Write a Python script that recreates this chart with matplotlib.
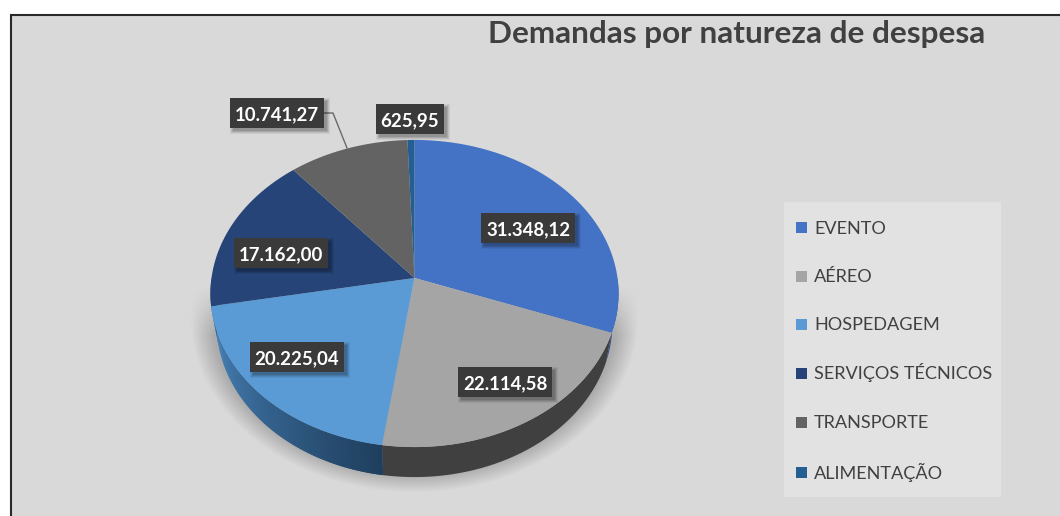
import numpy as np
import matplotlib
matplotlib.use("Agg")
import matplotlib.pyplot as plt
from matplotlib.patches import Rectangle, Polygon
from matplotlib.path import Path
from matplotlib.colors import to_rgb

categories = ["EVENTO", "AÉREO", "HOSPEDAGEM", "SERVIÇOS TÉCNICOS", "TRANSPORTE", "ALIMENTAÇÃO"]
values = [31348.12, 22114.58, 20225.04, 17162.00, 10741.27, 625.95]
value_labels = ["31.348,12", "22.114,58", "20.225,04", "17.162,00", "10.741,27", "625,95"]
colors = ["#4472C4", "#A5A5A5", "#5B9BD5", "#264478", "#636363", "#255E91"]
wall_colors = [("#2F5496", "#2F5496"), ("#404040", "#404040"), ("#4A86BE", "#1F3F5E"),
               ("#1F3F5E", "#1F3F5E"), ("#404040", "#404040"), ("#1F3F5E", "#1F3F5E")]
label_pos = [(528, 228), (505, 382), (297, 357), (281, 253), (277, 113), (410, 119)]
legend_rows = [227, 276, 324, 373, 422, 472]
title = "Demandas por natureza de despesa"

BG = "#D9D9D9"
TXT = "#404040"
CX, CY, RX, A, K = 414.5, 278.0, 203.0, 152.0, 0.101
DEPTH = 30.0

def project(x, y, depth=0.0, shrink=1.0):
    d = 1 + K * y
    return CX + shrink * RX * x / d, CY - A * y / d + depth

plt.rcParams["font.family"] = ["Lato", "DejaVu Sans"]
fig = plt.figure(figsize=(10.6, 5.16), dpi=100, facecolor="white")
ax = fig.add_axes([0, 0, 1, 1])

wedges, _ = ax.pie(values, colors=colors, startangle=90, counterclock=False, radius=1)
ax.set_aspect("auto")
ax.axis("off")

# chart area
ax.add_patch(Rectangle((10.5, 14.5), 1060, 520, fc=BG, ec="#2A2A2A", lw=1.5, zorder=0))

# soft shadow
yy, xx = np.mgrid[0:516, 0:1060]
dist = np.sqrt(((xx - 414) / 224.0) ** 2 + ((yy - 318) / 174.0) ** 2)
alpha = np.clip((1 - dist) / 0.10, 0, 1) * 0.30 * np.clip((yy - 285) / 50.0, 0, 1)
rgba = np.zeros((516, 1060, 4))
rgba[..., :3] = 0.25
rgba[..., 3] = alpha
ax.imshow(rgba, extent=(0, 1060, 516, 0), aspect="auto", zorder=1, interpolation="bilinear")
ax.set_xlim(0, 1060)
ax.set_ylim(516, 0)

# side wall: only the front half of the rim shows
def wall(t1, t2, c1, c2):
    c1, c2 = np.array(to_rgb(c1)), np.array(to_rgb(c2))
    steps = 70 if not np.allclose(c1, c2) else 1
    edges = np.linspace(t1, t2, steps + 1)
    for i in range(steps):
        s = np.radians(np.linspace(edges[i], edges[min(i + 2, steps)], 40))
        tx, ty = project(np.cos(s), np.sin(s))
        bx, by = project(np.cos(s), np.sin(s), DEPTH, 0.97)
        pts = np.r_[np.c_[tx, ty], np.c_[bx, by][::-1]]
        col = c1 + (c2 - c1) * i / max(steps - 1, 1)
        ax.add_patch(Polygon(pts, fc=col, ec="none", lw=0, zorder=2))

for w, (c1, c2) in zip(wedges, wall_colors):
    t1, t2 = w.theta1, w.theta2
    while t1 < 0:
        t1, t2 = t1 + 360, t2 + 360
    lo, hi = max(t1, 180), min(t2, 360)
    if hi > lo:
        wall(lo, hi, c1, c2)

# top faces: pie wedges reshaped through the perspective
for w in wedges:
    s = np.radians(np.linspace(w.theta1, w.theta2, 200))
    xs = np.r_[0, np.cos(s), 0]
    ys = np.r_[0, np.sin(s), 0]
    px, py = project(xs, ys)
    w._path = Path(np.c_[px, py], closed=True)
    w.set_zorder(3)
    w.set_edgecolor("none")

# leader line
ax.plot([323, 333, 347], [113, 113, 148], color="#6A6A6A", lw=1.0, zorder=4)

# data labels
texts = []
for lab, (x, y) in zip(value_labels, label_pos):
    t = ax.text(x, y, lab, color="white", fontweight="bold", fontsize=13.4, ha="center", va="center_baseline",
                zorder=7)
    texts.append(t)

fig.canvas.draw()
rend = fig.canvas.get_renderer()
for t, (x, y) in zip(texts, label_pos):
    bb = t.get_window_extent(rend)
    hw = bb.width / 2 + 5.0
    hh = 15.0
    for grow, al in [(3, 0.06), (2, 0.08), (1, 0.10), (0, 0.12)]:
        ax.add_patch(Rectangle((x - hw + 3 - grow, y - hh + 3 - grow), 2 * hw + 2 * grow, 2 * hh + 2 * grow,
                               fc="black", ec="none", alpha=al, zorder=5))
    ax.add_patch(Rectangle((x - hw, y - hh), 2 * hw, 2 * hh, fc="#3A3A3A", ec="none", zorder=6))

# title
ax.text(488, 34, title, color=TXT, fontweight="bold", fontsize=22.65, ha="left", va="center", zorder=6)

# legend
ax.add_patch(Rectangle((784, 202), 217, 295, fc="#E2E2E2", ec="none", zorder=5))
for name, col, y in zip(categories, colors, legend_rows):
    ax.add_patch(Rectangle((796, y - 5.5), 11, 11, fc=col, ec="none", zorder=6))
    ax.text(814, y + 6.5, name, color=TXT, fontsize=13.1, ha="left", va="baseline", zorder=6)

fig.savefig("out.png", dpi=100, facecolor="white")
